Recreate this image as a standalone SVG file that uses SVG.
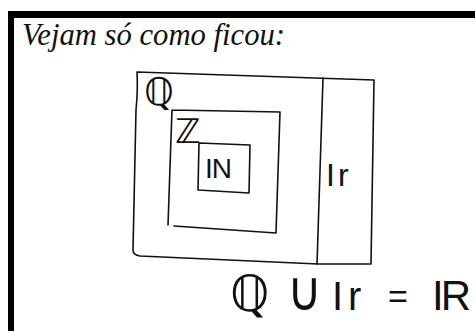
<svg xmlns="http://www.w3.org/2000/svg" width="475" height="331" viewBox="0 0 475 331">
<style>
.ln{fill:none;stroke:#111;stroke-width:1.6;stroke-linecap:round;stroke-linejoin:round}
.t{fill:#111;font-family:"DejaVu Sans","Liberation Sans",sans-serif}
.s{fill:#111;font-family:"Liberation Sans","DejaVu Sans",sans-serif}
.h{fill:#111;font-family:"Liberation Serif",serif;font-style:italic}
</style>
<rect width="475" height="331" fill="#fff"/>
<g id="frame">
<rect x="8" y="11" width="467" height="7" fill="#000"/>
<rect x="8" y="11" width="6" height="320" fill="#000"/>
</g>
<g id="title"><text class="h" x="22" y="45" font-size="32" textLength="263" lengthAdjust="spacingAndGlyphs">Vejam só como ficou:</text></g>
<g id="connectors">
<path class="ln" d="M137,72 L374,80 L371,264 L318,264 L140,256 Q133,255 133,250 L136,110 Q138,90 137,72 Z"/>
<path class="ln" d="M323,78 L317,264"/>
</g>
<g id="Q">
<text class="t" x="144" y="105" font-size="38">ℚ</text>
</g>
<g id="Z">
<path class="ln" d="M172,110 L280,112 L276,233 L174,226 M172,110 L168,225"/>
<text class="t" x="175" y="143" font-size="34">ℤ</text>
</g>
<g id="N">
<path class="ln" d="M199,143 L250,145 L249,193 L198,190 Z"/>
<text class="s" x="205" y="178" font-size="28" letter-spacing="-1">IN</text>
</g>
<g id="Ir">
<text class="s" x="326" y="186" font-size="32" letter-spacing="3">Ir</text>
</g>
<g id="formula">
<text class="t" x="230" y="311" font-size="50">ℚ</text>
<text class="t" transform="translate(287,310) scale(1,1.15)" font-size="48" font-weight="200">∪</text>
<text class="s" x="332" y="310" font-size="40" letter-spacing="5">Ir</text>
<text class="s" x="388" y="308" font-size="34">=</text>
<text class="s" x="432" y="310" font-size="42" letter-spacing="-3">IR</text>
</g>
</svg>
